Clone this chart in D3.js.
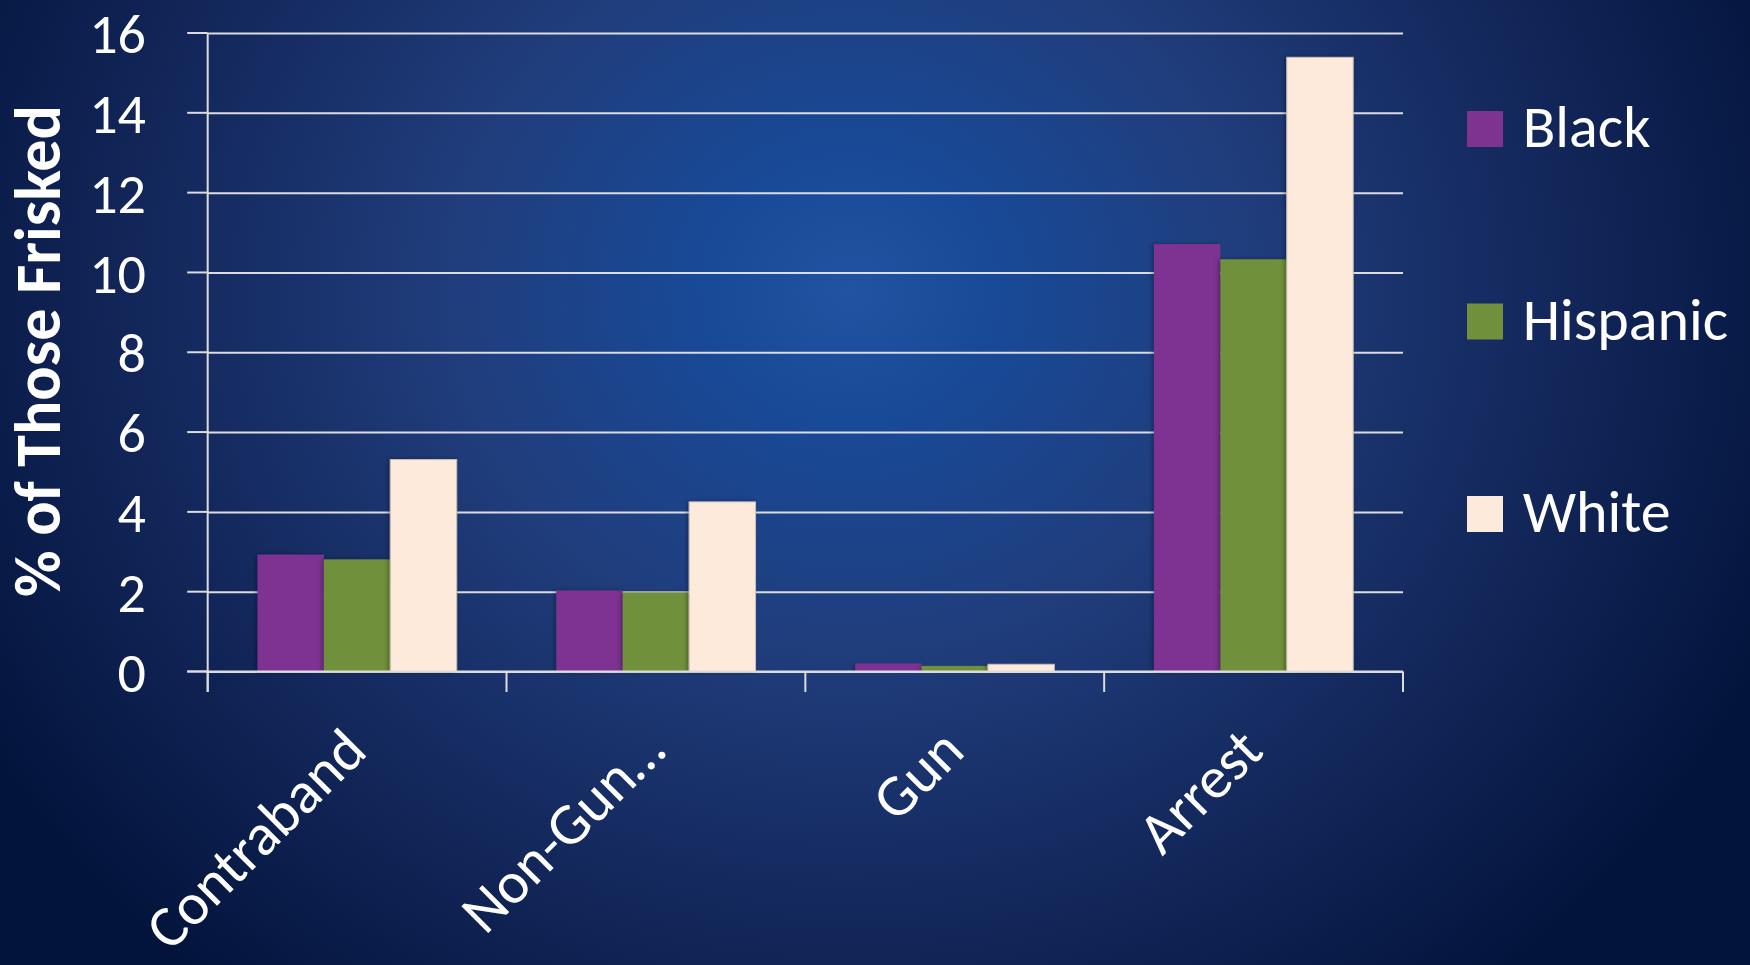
<!DOCTYPE html>
<html>
<head>
<meta charset="utf-8">
<script src="https://cdn.jsdelivr.net/npm/d3@7"></script>
<style>
  html, body { margin: 0; padding: 0; background: #0a1d4d; }
  svg { display: block; font-family: Carlito, Lato, "Open Sans", sans-serif; }
  .grid line { stroke: #dcdcdc; stroke-width: 2; }
  .axis text { fill: #fff; }
</style>
</head>
<body>
<div id="chart"></div>
<script>
var categories = ["Contraband", "Non-Gun\u2026", "Gun", "Arrest"];
var seriesNames = ["Black", "Hispanic", "White"];
var blackValues = [2.93, 2.03, 0.2, 10.71];
var hispanicValues = [2.81, 1.98, 0.14, 10.33];
var whiteValues = [5.31, 4.25, 0.18, 15.39];
var yTicks = [0, 2, 4, 6, 8, 10, 12, 14, 16];
var colors = ["#7e3391", "#70903b", "#fdeadb"];

var W = 1750, H = 965;
var margin = {top: 33, right: 347, bottom: 293.5, left: 207.7};

var svg = d3.select("#chart").append("svg")
    .attr("width", W)
    .attr("height", H);

// background glow
var defs = svg.append("defs");
var grad = defs.append("radialGradient")
    .attr("id", "bg")
    .attr("gradientUnits", "userSpaceOnUse")
    .attr("cx", 850).attr("cy", 290).attr("r", 1000)
    .attr("gradientTransform", "translate(850,290) scale(1,0.9) translate(-850,-290)");
[[0, "#2253a2"], [0.14, "#184a98"], [0.4, "#203d7c"], [0.72, "#122659"], [1, "#03143c"]]
  .forEach(function(s) {
    grad.append("stop").attr("offset", s[0]).attr("stop-color", s[1]);
  });
var shadow = defs.append("filter").attr("id", "shadow")
    .attr("x", "-20%").attr("y", "-5%").attr("width", "140%").attr("height", "110%");
shadow.append("feDropShadow")
    .attr("dx", -1.5).attr("dy", 0).attr("stdDeviation", 2)
    .attr("flood-color", "#000").attr("flood-opacity", 0.35);

svg.append("rect")
    .attr("width", W).attr("height", H)
    .attr("fill", "url(#bg)");

var x0 = d3.scaleBand()
    .domain(categories)
    .range([margin.left, W - margin.right])
    .paddingInner(0).paddingOuter(0);
var x1 = d3.scaleBand()
    .domain(seriesNames)
    .range([0, x0.bandwidth()])
    .paddingInner(0).paddingOuter(0.75);
var y = d3.scaleLinear()
    .domain([0, 16])
    .range([H - margin.bottom, margin.top]);

var data = categories.map(function(c, i) {
  return {category: c, values: [blackValues[i], hispanicValues[i], whiteValues[i]]};
});

// gridlines + y ticks
svg.append("g")
    .attr("class", "grid")
    .attr("transform", "translate(" + margin.left + ",0)")
    .call(d3.axisLeft(y).tickValues(yTicks).tickSize(-(W - margin.right - margin.left)).tickFormat(""))
    .call(function(g) { g.select(".domain").remove(); });
svg.append("g")
    .attr("class", "grid")
    .selectAll("line")
    .data(yTicks)
    .enter().append("line")
    .attr("x1", margin.left - 20.5)
    .attr("x2", margin.left)
    .attr("y1", function(d) { return y(d); })
    .attr("y2", function(d) { return y(d); });

// y tick labels
svg.append("g")
    .attr("class", "axis")
    .selectAll("text")
    .data(yTicks)
    .enter().append("text")
    .attr("x", 146)
    .attr("y", function(d) { return y(d); })
    .attr("dy", "0.36em")
    .attr("text-anchor", "end")
    .style("font-size", "56px")
    .text(function(d) { return d; });

// bars
var groups = svg.append("g")
    .selectAll("g")
    .data(data)
    .enter().append("g")
    .attr("transform", function(d) { return "translate(" + x0(d.category) + ",0)"; });
groups.selectAll("rect")
    .data(function(d) { return d.values.map(function(v, i) { return {name: seriesNames[i], value: v, i: i}; }); })
    .enter().append("rect")
    .attr("x", function(d) { return x1(d.name); })
    .attr("y", function(d) { return y(d.value); })
    .attr("width", x1.bandwidth())
    .attr("height", function(d) { return y(0) - y(d.value); })
    .attr("fill", function(d) { return colors[d.i]; })
    .attr("stroke", function(d) { return d.i == 2 ? "#c9bfb8" : "none"; })
    .attr("stroke-width", 1)
    .attr("filter", "url(#shadow)");

// axes lines
var axisG = svg.append("g").attr("class", "grid");
axisG.append("line")
    .attr("x1", margin.left).attr("x2", margin.left)
    .attr("y1", y(16)).attr("y2", y(0) + 20.5);
axisG.append("line")
    .attr("x1", margin.left - 20.5).attr("x2", W - margin.right)
    .attr("y1", y(0)).attr("y2", y(0));
axisG.selectAll(".ctick")
    .data(categories.concat([null]))
    .enter().append("line")
    .attr("class", "ctick")
    .attr("x1", function(d, i) { return margin.left + i * x0.step(); })
    .attr("x2", function(d, i) { return margin.left + i * x0.step(); })
    .attr("y1", y(0)).attr("y2", y(0) + 20.5);

// category labels, rotated
svg.append("g")
    .attr("class", "axis")
    .selectAll("text")
    .data(categories)
    .enter().append("text")
    .attr("transform", function(d) {
      return "translate(" + (x0(d) + x0.bandwidth() / 2 + 12) + "," + (y(0) + 82) + ") rotate(-45)";
    })
    .attr("text-anchor", "end")
    .style("font-size", "59px")
    .text(function(d) { return d; });

// y title
svg.append("text")
    .attr("transform", "translate(60," + 351 + ") rotate(-90)")
    .attr("text-anchor", "middle")
    .attr("fill", "#fff")
    .style("font-size", "64px")
    .style("font-weight", "bold")
    .text("% of Those Frisked");

// legend
var legend = svg.append("g")
    .selectAll("g")
    .data(seriesNames)
    .enter().append("g")
    .attr("transform", function(d, i) { return "translate(1467," + (111 + i * 192.5) + ")"; });
legend.append("rect")
    .attr("width", 36).attr("height", 36)
    .attr("fill", function(d, i) { return colors[i]; });
legend.append("text")
    .attr("x", 55.7)
    .attr("y", 36)
    .attr("fill", "#fff")
    .style("font-size", "60px")
    .text(function(d) { return d; });
</script>
</body>
</html>
